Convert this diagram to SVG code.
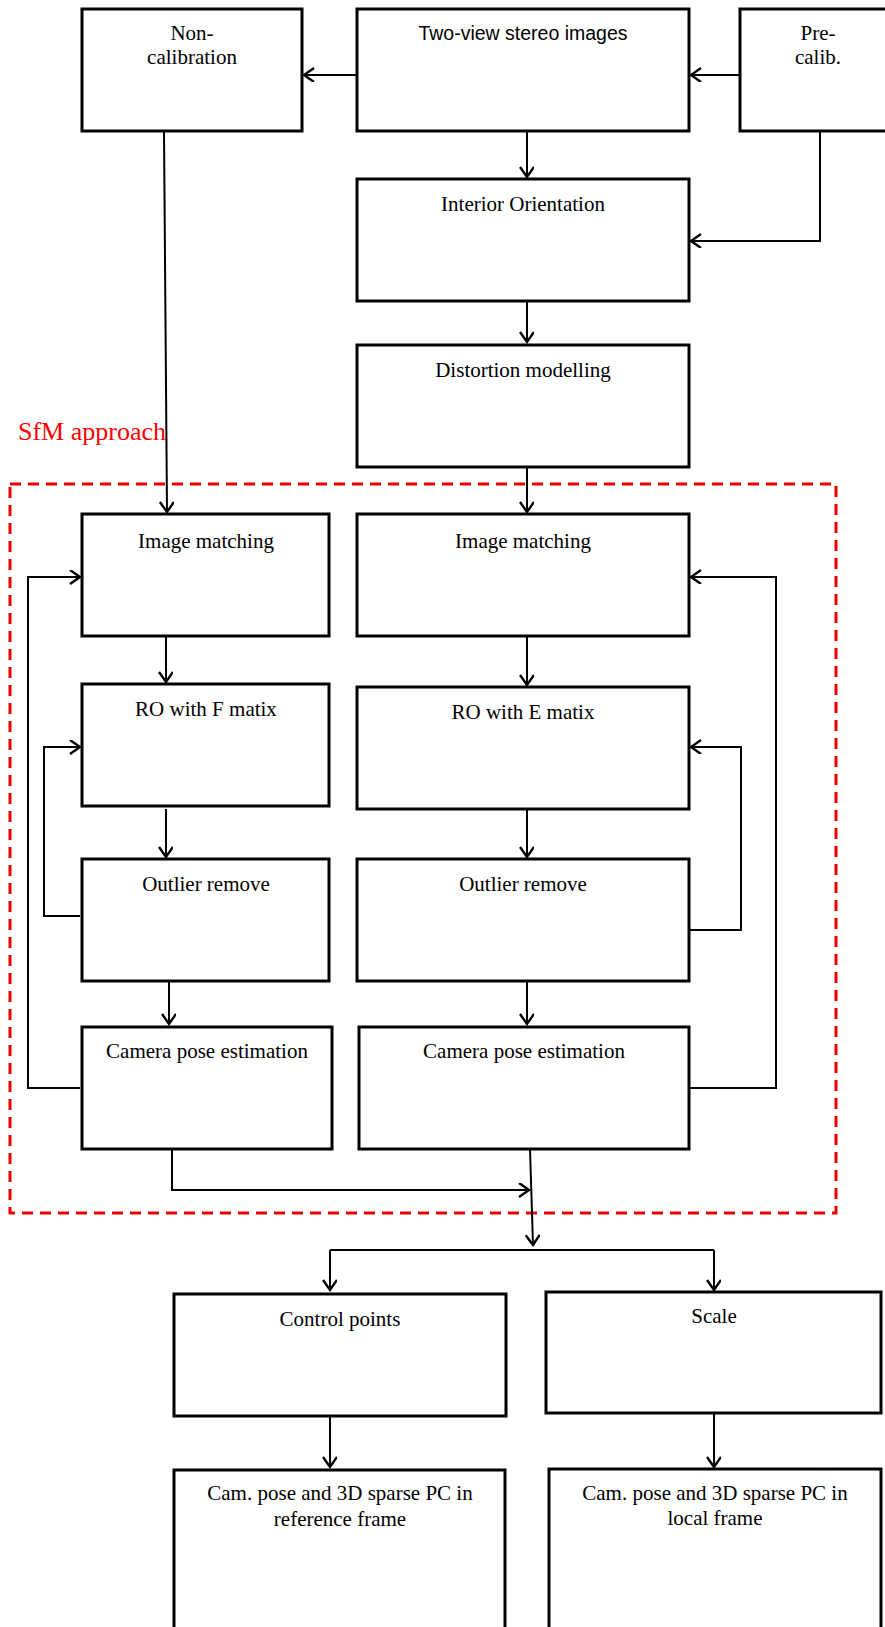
<svg xmlns="http://www.w3.org/2000/svg" width="885" height="1627" viewBox="0 0 885 1627">
<style>
.box{fill:#fff;stroke:#000;stroke-width:3}
.t{font-family:"Liberation Serif","Times New Roman",serif;font-size:21px;fill:#000;text-anchor:middle}
.s{font-family:"Liberation Sans",Arial,sans-serif;font-size:19.5px;fill:#000;text-anchor:middle}
.c{fill:none;stroke:#000;stroke-width:2}
</style>
<defs>
<marker id="ah" markerUnits="userSpaceOnUse" markerWidth="14" markerHeight="16" refX="11" refY="7" orient="auto">
<path d="M1,0 L11,7 L1,14" fill="none" stroke="#000" stroke-width="2.4"/>
</marker>
</defs>
<rect x="0" y="0" width="885" height="1627" fill="#fff"/>
<g id="sfm">
<rect x="10" y="484" width="826" height="729" fill="none" stroke="#e00" stroke-width="3" stroke-dasharray="11,7"/>
<text x="18" y="440" font-family="'Liberation Serif','Times New Roman',serif" font-size="26" fill="#f00">SfM approach</text>
</g>
<g id="connectors">
<path class="c" d="M357,75 H304" marker-end="url(#ah)"/>
<path class="c" d="M740,75 H691" marker-end="url(#ah)"/>
<path class="c" d="M527,131 V177" marker-end="url(#ah)"/>
<path class="c" d="M820,131 V241 H691" marker-end="url(#ah)"/>
<path class="c" d="M527,301 V342" marker-end="url(#ah)"/>
<path class="c" d="M164,131 L167,512" marker-end="url(#ah)"/>
<path class="c" d="M527,467 V512" marker-end="url(#ah)"/>
<path class="c" d="M166,636 V682" marker-end="url(#ah)"/>
<path class="c" d="M527,636 V685" marker-end="url(#ah)"/>
<path class="c" d="M166,809 V857" marker-end="url(#ah)"/>
<path class="c" d="M527,809 V857" marker-end="url(#ah)"/>
<path class="c" d="M169,982 V1024" marker-end="url(#ah)"/>
<path class="c" d="M527,981 V1024" marker-end="url(#ah)"/>
<path class="c" d="M80,1088 H28 V577 H80" marker-end="url(#ah)"/>
<path class="c" d="M80,916 H44 V747 H80" marker-end="url(#ah)"/>
<path class="c" d="M689,930 H741 V747 H691" marker-end="url(#ah)"/>
<path class="c" d="M684,1088 H776 V577 H691" marker-end="url(#ah)"/>
<path class="c" d="M172,1149 V1190 H529" marker-end="url(#ah)"/>
<path class="c" d="M530,1149 L533,1245" marker-end="url(#ah)"/>
<path class="c" d="M330,1250 H714"/>
<path class="c" d="M330,1250 V1290" marker-end="url(#ah)"/>
<path class="c" d="M714,1250 V1290" marker-end="url(#ah)"/>
<path class="c" d="M330,1416 V1467" marker-end="url(#ah)"/>
<path class="c" d="M714,1413 V1467" marker-end="url(#ah)"/>
</g>
<g id="n-noncal"><rect class="box" x="82" y="9" width="220" height="122"/><text class="t" x="192" y="40">Non-</text><text class="t" x="192" y="64">calibration</text></g>
<g id="n-twoview"><rect class="box" x="357" y="9" width="332" height="122"/><text class="s" x="523" y="40">Two-view stereo images</text></g>
<g id="n-precal"><rect class="box" x="740" y="9" width="160" height="122"/><text class="t" x="818" y="40">Pre-</text><text class="t" x="818" y="64">calib.</text></g>
<g id="n-io"><rect class="box" x="357" y="179" width="332" height="122"/><text class="t" x="523" y="211">Interior Orientation</text></g>
<g id="n-dist"><rect class="box" x="357" y="345" width="332" height="122"/><text class="t" x="523" y="377">Distortion modelling</text></g>
<g id="n-im1"><rect class="box" x="82" y="514" width="247" height="122"/><text class="t" x="206" y="548">Image matching</text></g>
<g id="n-im2"><rect class="box" x="357" y="514" width="332" height="122"/><text class="t" x="523" y="548">Image matching</text></g>
<g id="n-rof"><rect class="box" x="82" y="684" width="247" height="122"/><text class="t" x="206" y="716">RO with F matix</text></g>
<g id="n-roe"><rect class="box" x="357" y="687" width="332" height="122"/><text class="t" x="523" y="719">RO with E matix</text></g>
<g id="n-or1"><rect class="box" x="82" y="859" width="247" height="122"/><text class="t" x="206" y="891">Outlier remove</text></g>
<g id="n-or2"><rect class="box" x="357" y="859" width="332" height="122"/><text class="t" x="523" y="891">Outlier remove</text></g>
<g id="n-cp1"><rect class="box" x="82" y="1027" width="250" height="122"/><text class="t" x="207" y="1058">Camera pose estimation</text></g>
<g id="n-cp2"><rect class="box" x="359" y="1027" width="330" height="122"/><text class="t" x="524" y="1058">Camera pose estimation</text></g>
<g id="n-ctrl"><rect class="box" x="174" y="1294" width="332" height="122"/><text class="t" x="340" y="1326">Control points</text></g>
<g id="n-scale"><rect class="box" x="546" y="1292" width="335" height="121"/><text class="t" x="714" y="1323">Scale</text></g>
<g id="n-ref"><rect class="box" x="174" y="1470" width="331" height="170"/><text class="t" x="340" y="1500">Cam. pose and 3D sparse PC in</text><text class="t" x="340" y="1526">reference frame</text></g>
<g id="n-local"><rect class="box" x="549" y="1469" width="332" height="170"/><text class="t" x="715" y="1500">Cam. pose and 3D sparse PC in</text><text class="t" x="715" y="1525">local frame</text></g>
</svg>
